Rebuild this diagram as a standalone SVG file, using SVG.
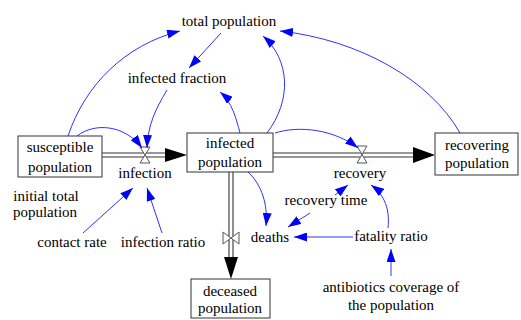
<svg xmlns="http://www.w3.org/2000/svg" width="521" height="320" viewBox="0 0 521 320">
  <defs>
    <marker id="ah" markerUnits="userSpaceOnUse" markerWidth="13" markerHeight="9" refX="13" refY="4.5" orient="auto">
      <path d="M0,0 L13,4.5 L0,9 Z" fill="#0000ff"/>
    </marker>
  </defs>
  <rect width="521" height="320" fill="#fff"/>

  <!-- material flows: pipes, valves and flow arrowheads -->
  <g id="flows">
    <g id="infection-flow">
      <g stroke="#333" stroke-width="1.1" fill="none">
        <line x1="102" y1="153" x2="167" y2="153"/>
        <line x1="102" y1="157" x2="167" y2="157"/>
      </g>
      <polygon points="165,148 187,155 165,162" fill="#000"/>
      <path d="M140,147 L150,147 L140,163 L150,163 Z" fill="#fff" stroke="#555"/>
    </g>
    <g id="recovery-flow">
      <g stroke="#333" stroke-width="1.1" fill="none">
        <line x1="273" y1="153" x2="415" y2="153"/>
        <line x1="273" y1="157" x2="415" y2="157"/>
      </g>
      <polygon points="413,147 435,155 413,163" fill="#000"/>
      <path d="M357,146 L367,146 L357,163 L367,163 Z" fill="#fff" stroke="#555"/>
    </g>
    <g id="deaths-flow">
      <g stroke="#333" stroke-width="1.1" fill="none">
        <line x1="229" y1="172" x2="229" y2="259"/>
        <line x1="233" y1="172" x2="233" y2="259"/>
      </g>
      <polygon points="224,257 231,279 238,257" fill="#000"/>
      <path d="M223,232 L223,244 L239,232 L239,244 Z" fill="#fff" stroke="#555"/>
    </g>
  </g>

  <!-- information links -->
  <g id="connectors" fill="none" stroke="#1a1aff" stroke-width="0.9" marker-end="url(#ah)">
    <path d="M68,136 C85,85 125,45 180,31"/>
    <path d="M221,33 L189,68"/>
    <path d="M267,133 C292,100 290,60 263,36"/>
    <path d="M240,133 C236,118 232,102 220,92"/>
    <path d="M167,90 C155,110 148,125 147,148"/>
    <path d="M77,136 C95,122 125,125 142,148"/>
    <path d="M83,233 L133,188"/>
    <path d="M162,233 L147,188"/>
    <path d="M275,133 C300,125 335,130 358,148"/>
    <path d="M460,133 C430,80 360,40 280,31"/>
    <path d="M248,172 C262,185 268,205 266,226"/>
    <path d="M310,213 L288,227"/>
    <path d="M335,195 L348,185"/>
    <path d="M388,228 C390,210 385,195 371,185"/>
    <path d="M353,237 L294,237"/>
    <path d="M391,276 L391,249"/>
  </g>

  <!-- stocks -->
  <g id="susceptible-population">
    <rect x="18" y="136" width="84" height="41" fill="#fff" stroke="#333"/>
    <text x="60" y="152" font-size="15" font-family="Times New Roman" text-anchor="middle"><tspan font-family="Times New Roman">susceptible</tspan></text>
    <text x="60" y="172" font-size="15" font-family="Times New Roman" text-anchor="middle"><tspan font-family="Times New Roman">population</tspan></text>
  </g>
  <g id="infected-population">
    <rect x="187" y="133" width="86" height="39" fill="#fff" stroke="#333"/>
    <text x="230" y="148" font-size="15" font-family="Times New Roman" text-anchor="middle"><tspan font-family="Times New Roman">infected</tspan></text>
    <text x="230" y="167" font-size="15" font-family="Times New Roman" text-anchor="middle"><tspan font-family="Times New Roman">population</tspan></text>
  </g>
  <g id="recovering-population">
    <rect x="435" y="133" width="83" height="42" fill="#fff" stroke="#333"/>
    <text x="477" y="150" font-size="15" font-family="Times New Roman" text-anchor="middle"><tspan font-family="Times New Roman">recovering</tspan></text>
    <text x="477" y="168" font-size="15" font-family="Times New Roman" text-anchor="middle"><tspan font-family="Times New Roman">population</tspan></text>
  </g>
  <g id="deceased-population">
    <rect x="191" y="279" width="79" height="39" fill="#fff" stroke="#333"/>
    <text x="230" y="296" font-size="15" font-family="Times New Roman" text-anchor="middle"><tspan font-family="Times New Roman">deceased</tspan></text>
    <text x="230" y="313" font-size="15" font-family="Times New Roman" text-anchor="middle"><tspan font-family="Times New Roman">population</tspan></text>
  </g>

  <!-- flow rates and auxiliaries -->
  <g id="infection"><text x="145" y="178" font-size="15" font-family="Times New Roman" text-anchor="middle"><tspan font-family="Times New Roman">infection</tspan></text></g>
  <g id="recovery"><text x="360" y="178" font-size="15" font-family="Times New Roman" text-anchor="middle"><tspan font-family="Times New Roman">recovery</tspan></text></g>
  <g id="deaths"><text x="270" y="242" font-size="15" font-family="Times New Roman" text-anchor="middle"><tspan font-family="Times New Roman">deaths</tspan></text></g>
  <g id="total-population"><text x="229" y="26" font-size="15" font-family="Times New Roman" text-anchor="middle"><tspan font-family="Times New Roman">total population</tspan></text></g>
  <g id="infected-fraction"><text x="177" y="83" font-size="15" font-family="Times New Roman" text-anchor="middle"><tspan font-family="Times New Roman">infected fraction</tspan></text></g>
  <g id="initial-total-population">
    <text x="46" y="201" font-size="15" font-family="Times New Roman" text-anchor="middle"><tspan font-family="Times New Roman">initial total</tspan></text>
    <text x="45" y="217" font-size="15" font-family="Times New Roman" text-anchor="middle"><tspan font-family="Times New Roman">population</tspan></text>
  </g>
  <g id="contact-rate"><text x="72" y="247" font-size="15" font-family="Times New Roman" text-anchor="middle"><tspan font-family="Times New Roman">contact rate</tspan></text></g>
  <g id="infection-ratio"><text x="163" y="247" font-size="15" font-family="Times New Roman" text-anchor="middle"><tspan font-family="Times New Roman">infection ratio</tspan></text></g>
  <g id="recovery-time"><text x="326" y="205" font-size="15" font-family="Times New Roman" text-anchor="middle"><tspan font-family="Times New Roman">recovery time</tspan></text></g>
  <g id="fatality-ratio"><text x="391" y="241" font-size="15" font-family="Times New Roman" text-anchor="middle"><tspan font-family="Times New Roman">fatality ratio</tspan></text></g>
  <g id="antibiotics-coverage">
    <text x="391" y="292" font-size="15" font-family="Times New Roman" text-anchor="middle"><tspan font-family="Times New Roman">antibiotics coverage of</tspan></text>
    <text x="391" y="310" font-size="15" font-family="Times New Roman" text-anchor="middle"><tspan font-family="Times New Roman">the population</tspan></text>
  </g>
</svg>
